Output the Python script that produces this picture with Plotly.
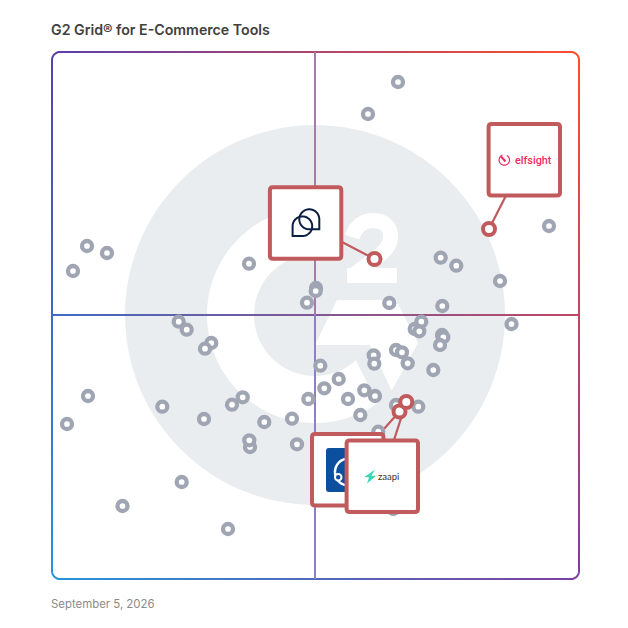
import numpy as np
import plotly.graph_objects as go

# positions, in image pixels (y runs downward)
vendor_x = [398, 368, 549, 87, 107, 73, 249, 316, 315.7, 307, 389.3, 442.3, 440.7, 456.3, 500, 511.5,
            178.7, 186.7, 211.3, 205, 421.3, 414.7, 419.3, 442, 443.3, 440, 373.7, 374.3, 396, 402,
            407.7, 433.3, 320.3, 338.7, 324.3, 308.3, 364.3, 375, 348, 360.3, 396, 418.3, 242.7, 232,
            162.3, 204, 264.3, 292, 250, 249.3, 297, 378.3, 181.7, 122.5, 88, 67, 228, 393.3]
vendor_y = [82, 114, 226, 246, 253, 271, 263.7, 288, 291, 302.7, 303, 306, 257.7, 265.7, 281, 324,
            321.7, 329.7, 343, 348.7, 321.7, 329, 331.3, 335, 337.3, 345, 355.3, 363.7, 350, 352.3,
            363.3, 370, 365.7, 379, 388.3, 399, 390.3, 396, 399, 415, 405, 406.7, 397.3, 404.7,
            406.7, 419, 422, 418.7, 447, 440.3, 444.3, 431.7, 482, 506, 396, 424, 529, 509]

# highlighted vendors and the centre of their callout boxes
callout_names = ["chat", "elfsight", "blue", "zaapi"]
callout_x = [374.5, 489, 399.5, 406.3]
callout_y = [259, 229, 411.5, 402]
box_x = [305.6, 524.3, 347.7, 382.3]
box_y = [223, 159.7, 469.7, 476.2]

title_text = "G2 Grid® for E-Commerce Tools"
date_text = "September 5, 2026"

RED = "#C05A5C"
GREY = "#9FA5B3"
LOGO_BG = "#EAEDF0"
NAVY = "#0B1F45"
PINK = "#F5295F"
LEFT, RIGHT, TOP, BOTTOM = 52, 579, 52, 579
CX, CY = 315, 315
CORNERS = {"tl": (90, 63, 174), "tr": (255, 79, 44), "bl": (37, 150, 220), "br": (127, 63, 159)}


def grid_color(x, y):
    u = (x - LEFT) / (RIGHT - LEFT)
    v = (y - TOP) / (BOTTOM - TOP)
    c = [(1 - u) * (1 - v) * a + u * (1 - v) * b + (1 - u) * v * d + u * v * e
         for a, b, d, e in zip(CORNERS["tl"], CORNERS["tr"], CORNERS["bl"], CORNERS["br"])]
    return "rgb(%d,%d,%d)" % tuple(c)


def poly_path(xs, ys, close=True):
    p = "M" + " L".join("%.2f,%.2f" % (a, b) for a, b in zip(xs, ys))
    return p + (" Z" if close else "")


def arc(cx, cy, r, a0, a1, n=60):
    t = np.radians(np.linspace(a0, a1, n))
    return cx + r * np.cos(t), cy + r * np.sin(t)


def round_box(cx, cy, half=35.7, r=3):
    x0, x1, y0, y1 = cx - half, cx + half, cy - half, cy + half
    return (f"M{x0 + r},{y0} L{x1 - r},{y0} Q{x1},{y0} {x1},{y0 + r} L{x1},{y1 - r} Q{x1},{y1} {x1 - r},{y1} "
            f"L{x0 + r},{y1} Q{x0},{y1} {x0},{y1 - r} L{x0},{y0 + r} Q{x0},{y0} {x0 + r},{y0} Z")


def gradient_line(x0, y0, x1, y1, width, n=60):
    # plotly has no gradient stroke, so short overlapping pieces
    out = []
    for i in range(n):
        t0, t1 = i / n, min(1, (i + 1.3) / n)
        xa, ya = x0 + (x1 - x0) * t0, y0 + (y1 - y0) * t0
        xb, yb = x0 + (x1 - x0) * t1, y0 + (y1 - y0) * t1
        out.append(dict(type="line", x0=xa, y0=ya, x1=xb, y1=yb, layer="below",
                        line=dict(color=grid_color((xa + xb) / 2, (ya + yb) / 2), width=width)))
    return out


shapes = []
# G2 watermark
shapes.append(dict(type="circle", x0=CX - 190, x1=CX + 190, y0=CY - 190, y1=CY + 190, layer="below",
                   fillcolor=LOGO_BG, line_width=0))
ox, oy = arc(CX, CY, 108, 54.8, 281)
ix, iy = arc(CX, CY, 61, 281, 48)
shapes.append(dict(type="path", path=poly_path(np.r_[ox, ix], np.r_[oy, iy]), layer="below",
                   fillcolor="white", line_width=0))
shapes.append(dict(type="path", layer="below", fillcolor="white", line_width=0,
                   path=poly_path([337, 396, 418, 391.7, 370, 315], [300, 300, 343, 390.5, 345, 345])))
shapes.append(dict(type="path", layer="below", line=dict(color="white", width=15),
                   path="M352,237 C356,225 365,220.5 373,220.5 C384,220.5 390.5,227 390.5,236 "
                        "C390.5,246 384,252 376,258 L351,277 M347,275.5 L397,275.5"))

# frame with rounded corners
r = 8
shapes += gradient_line(LEFT + r, TOP, RIGHT - r, TOP, 2)
shapes += gradient_line(LEFT + r, BOTTOM, RIGHT - r, BOTTOM, 2)
shapes += gradient_line(LEFT, TOP + r, LEFT, BOTTOM - r, 2)
shapes += gradient_line(RIGHT, TOP + r, RIGHT, BOTTOM - r, 2)
for cx, cy, a0 in [(LEFT + r, TOP + r, 180), (RIGHT - r, TOP + r, 270),
                   (RIGHT - r, BOTTOM - r, 0), (LEFT + r, BOTTOM - r, 90)]:
    ax, ay = arc(cx, cy, r, a0, a0 + 90, 12)
    shapes.append(dict(type="path", path=poly_path(ax, ay, close=False), layer="below",
                       line=dict(color=grid_color(ax[6], ay[6]), width=2)))

# quadrant lines
shapes += gradient_line(LEFT, CY, RIGHT, CY, 2)
shapes.append(dict(type="line", x0=CX, x1=CX, y0=TOP, y1=CY, layer="below", line=dict(color="#A87AA8", width=2)))
shapes.append(dict(type="line", x0=CX, x1=CX, y0=CY, y1=BOTTOM, layer="below", line=dict(color="#8F80C4", width=2)))

# callout boxes, drawn above the points
for i, name in enumerate(callout_names):
    bx, by = box_x[i], box_y[i]
    shapes.append(dict(type="path", path=round_box(bx, by), fillcolor="white", layer="above",
                       line=dict(color=RED, width=4)))
    if name == "chat":
        tx, ty = arc(309.3, 219.3, 10, 0, -270)
        shapes.append(dict(type="path", layer="above", line=dict(color=NAVY, width=2),
                           path=poly_path(np.r_[tx, 319.3], np.r_[ty, 229.3])))
        tx, ty = arc(302.4, 226.2, 9.8, 90, -180)
        shapes.append(dict(type="path", layer="above", line=dict(color=NAVY, width=2),
                           path=poly_path(np.r_[tx, 292.6], np.r_[ty, 236])))
    if name == "elfsight":
        ex, ey = arc(504.3, 160, 5.2, -60, 250)
        shapes.append(dict(type="path", path=poly_path(ex, ey, close=False), layer="above",
                           line=dict(color=PINK, width=1.2)))
        shapes.append(dict(type="line", x0=501, y0=156.5, x1=505.5, y1=161.5, layer="above",
                           line=dict(color=PINK, width=2)))
    if name == "blue":
        shapes.append(dict(type="path", path=round_box(348, 470, half=22, r=3), layer="above",
                           fillcolor="#0B4F9E", line_width=0))
        bxs, bys = arc(348.5, 472, 13.5, 105, 255)
        shapes.append(dict(type="path", path=poly_path(bxs, bys, close=False), layer="above",
                           line=dict(color="white", width=2.5)))
        shapes.append(dict(type="circle", x0=335, x1=341.5, y0=474, y1=480.5, layer="above",
                           fillcolor="#0B4F9E", line=dict(color="white", width=2)))
    if name == "zaapi":
        shapes.append(dict(type="path", layer="above", fillcolor="#3DD6B5", line_width=0,
                           path=poly_path([375, 364.5, 369, 367, 376, 371.5], [469.5, 477, 477.5, 483.5, 476, 475.5])))

# connectors run from the point to the box centre, the box hides the rest
fig = go.Figure()
for i in range(len(callout_names)):
    fig.add_trace(go.Scatter(x=[callout_x[i], box_x[i]], y=[callout_y[i], box_y[i]], mode="lines",
                             line=dict(color=RED, width=2.2), hoverinfo="skip", showlegend=False))
fig.add_trace(go.Scatter(x=vendor_x, y=vendor_y, mode="markers", showlegend=False,
                         marker=dict(size=10, color="white", line=dict(color=GREY, width=4.3))))
fig.add_trace(go.Scatter(x=callout_x, y=callout_y, mode="markers", showlegend=False,
                         marker=dict(size=12, color="white", line=dict(color=RED, width=4))))

annotations = [
    dict(x=48.5, y=29, text=title_text, showarrow=False, xanchor="left", yanchor="middle",
         font=dict(family="Inter", size=14.2, color="#404040", weight=600)),
    dict(x=48.5, y=604, text=date_text, showarrow=False, xanchor="left", yanchor="middle",
         font=dict(family="Inter", size=11.4, color="#8A8A8A")),
    dict(x=512.5, y=160, text="elfsight", showarrow=False, xanchor="left", yanchor="middle",
         font=dict(family="Roboto", size=10.8, color=PINK, weight=500)),
    dict(x=376, y=476, text="zaapi", showarrow=False, xanchor="left", yanchor="middle",
         font=dict(family="Lato", size=9.5, color="#333333")),
]
for a in annotations:
    a["xref"] = "x"
    a["yref"] = "y"

fig.update_layout(width=628, height=628, margin=dict(l=0, r=0, t=0, b=0), paper_bgcolor="white",
                  plot_bgcolor="white", shapes=shapes, annotations=annotations, showlegend=False)
fig.update_xaxes(range=[0, 628], visible=False, fixedrange=True)
fig.update_yaxes(range=[628, 0], visible=False, fixedrange=True)
# the page has a default body margin that would push the chart 8px off
fig.write_html("out.html", config={"displayModeBar": False},
               post_script="document.body.style.margin='0';document.documentElement.style.overflow='hidden';")
